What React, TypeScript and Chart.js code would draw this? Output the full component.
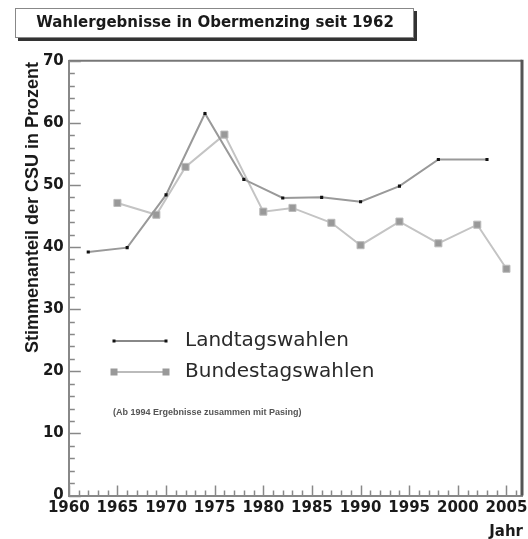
import React, { useEffect, useRef } from "react";
import { Chart, registerables } from "chart.js";

Chart.register(...registerables);

const chartTitle = "Wahlergebnisse in Obermenzing seit 1962";
const yTitle = "Stimmenanteil der CSU in Prozent";
const xTitle = "Jahr";
const note = "(Ab 1994 Ergebnisse zusammen mit Pasing)";
const seriesNames = ["Landtagswahlen", "Bundestagswahlen"];

const landtagYears = [1962, 1966, 1970, 1974, 1978, 1982, 1986, 1990, 1994, 1998, 2003];
const landtagValues = [39.2, 39.9, 48.4, 61.5, 50.9, 47.9, 48.0, 47.3, 49.8, 54.1, 54.1];
const bundestagYears = [1965, 1969, 1972, 1976, 1980, 1983, 1987, 1990, 1994, 1998, 2002, 2005];
const bundestagValues = [47.1, 45.2, 52.9, 58.1, 45.7, 46.3, 43.9, 40.3, 44.1, 40.6, 43.6, 36.5];

const xTickLabels = [1960, 1965, 1970, 1975, 1980, 1985, 1990, 1995, 2000, 2005];

const xMin = 1960;
const xMax = 2006.6;
const yMin = 0;
const yMax = 70;

const decorPlugin = {
  id: "decor",
  afterDraw(chart: any) {
    const ctx = chart.ctx as CanvasRenderingContext2D;
    const { left, right, top, bottom } = chart.chartArea;
    const xs = chart.scales.x;
    const ys = chart.scales.y;
    ctx.save();

    // frame top & right
    ctx.strokeStyle = "#777";
    ctx.lineWidth = 2;
    ctx.beginPath();
    ctx.moveTo(left, top);
    ctx.lineTo(right, top);
    ctx.stroke();
    ctx.strokeStyle = "#555";
    ctx.lineWidth = 3;
    ctx.beginPath();
    ctx.moveTo(right, top - 1);
    ctx.lineTo(right, bottom);
    ctx.stroke();

    // inner ticks
    ctx.strokeStyle = "#888";
    ctx.lineWidth = 1.5;
    for (let v = yMin; v <= yMax; v += 2) {
      const py = Math.round(ys.getPixelForValue(v)) + 0.5;
      const len = v % 10 === 0 ? 12 : 6;
      ctx.beginPath();
      ctx.moveTo(left, py);
      ctx.lineTo(left + len, py);
      ctx.stroke();
    }
    for (let v = xMin; v <= xMax; v += 1) {
      const px = Math.round(xs.getPixelForValue(v)) + 0.5;
      const len = v % 5 === 0 ? 10 : 5;
      ctx.beginPath();
      ctx.moveTo(px, bottom);
      ctx.lineTo(px, bottom - len);
      ctx.stroke();
    }

    // title box
    ctx.fillStyle = "#333";
    ctx.fillRect(18, 11, 399, 30);
    ctx.fillStyle = "#fff";
    ctx.fillRect(15, 8, 399, 30);
    ctx.strokeStyle = "#888";
    ctx.lineWidth = 1;
    ctx.strokeRect(15.5, 8.5, 398, 29);
    ctx.fillStyle = "#1a1a1a";
    ctx.font = "bold 15px 'DejaVu Sans'";
    ctx.textAlign = "center";
    ctx.textBaseline = "middle";
    ctx.fillText(chartTitle, 215, 23);

    // y title
    ctx.save();
    ctx.translate(33, 62);
    ctx.rotate(-Math.PI / 2);
    ctx.font = "bold 18px 'Liberation Sans'";
    ctx.textAlign = "right";
    ctx.textBaseline = "middle";
    ctx.fillStyle = "#1a1a1a";
    ctx.fillText(yTitle, 0, 0);
    ctx.restore();

    // x title
    ctx.font = "bold 15px 'DejaVu Sans'";
    ctx.textAlign = "right";
    ctx.textBaseline = "middle";
    ctx.fillStyle = "#1a1a1a";
    ctx.fillText(xTitle, 523, 532);

    // legend
    const legendItems = [
      { y: 341, line: "#888", marker: "#111", size: 3 },
      { y: 372, line: "#bbb", marker: "#999", size: 7 },
    ];
    legendItems.forEach((it, i) => {
      ctx.strokeStyle = it.line;
      ctx.lineWidth = 2;
      ctx.beginPath();
      ctx.moveTo(114, it.y);
      ctx.lineTo(166, it.y);
      ctx.stroke();
      ctx.fillStyle = it.marker;
      [114, 166].forEach((mx) => {
        ctx.fillRect(mx - it.size / 2, it.y - it.size / 2, it.size, it.size);
      });
      ctx.fillStyle = "#2a2a2a";
      ctx.font = "20px 'DejaVu Sans'";
      ctx.textAlign = "left";
      ctx.textBaseline = "middle";
      ctx.fillText(seriesNames[i], 185, it.y);
    });

    ctx.font = "bold 9px 'Liberation Sans'";
    ctx.fillStyle = "#555";
    ctx.textAlign = "left";
    ctx.textBaseline = "middle";
    ctx.fillText(note, 113, 413);

    ctx.restore();
  },
};

export default function App() {
  const ref = useRef<HTMLCanvasElement | null>(null);
  useEffect(() => {
    document.body.style.margin = "0";
    const canvas = ref.current!;
    const chart = new Chart(canvas, {
      type: "line",
      data: {
        datasets: [
          {
            label: seriesNames[0],
            data: landtagYears.map((x, i) => ({ x, y: landtagValues[i] })),
            borderColor: "#999",
            borderWidth: 2,
            backgroundColor: "#111",
            pointBackgroundColor: "#111",
            pointBorderColor: "#111",
            pointStyle: "rect",
            pointRadius: 2.2,
            pointBorderWidth: 0,
            tension: 0,
          },
          {
            label: seriesNames[1],
            data: bundestagYears.map((x, i) => ({ x, y: bundestagValues[i] })),
            borderColor: "#c4c4c4",
            borderWidth: 2,
            backgroundColor: "#999",
            pointBackgroundColor: "#999",
            pointBorderColor: "#bbb",
            pointStyle: "rect",
            pointRadius: 5,
            pointBorderWidth: 1,
            tension: 0,
          },
        ],
      },
      options: {
        animation: false,
        responsive: false,
        events: [],
        layout: { padding: { left: 0, top: 60.7, right: 4, bottom: 0 } },
        plugins: {
          legend: { display: false },
          title: { display: false },
          tooltip: { enabled: false },
        },
        scales: {
          x: {
            type: "linear",
            min: xMin,
            max: xMax,
            ticks: {
              padding: 4,
              color: "#1a1a1a",
              font: { family: "'DejaVu Sans'", weight: "bold", size: 15 },
              maxRotation: 0,
              autoSkip: false,
              callback: (v: any) => String(Math.round(v)),
            },
            grid: { display: false, drawTicks: false },
            border: { display: true, color: "#888", width: 2 },
            afterBuildTicks: (s: any) => {
              s.ticks = xTickLabels.map((v) => ({ value: v }));
            },
            afterFit: (s: any) => {
              s.height = 43.5;
              s.paddingLeft = 0;
              s.paddingRight = 0;
              s.paddingTop = 0;
              s.paddingBottom = 0;
            },
          },
          y: {
            min: yMin,
            max: yMax,
            ticks: {
              stepSize: 10,
              padding: 5,
              color: "#1a1a1a",
              font: { family: "'DejaVu Sans'", weight: "bold", size: 15 },
            },
            grid: { display: false, drawTicks: false },
            border: { display: true, color: "#888", width: 2 },
            afterFit: (s: any) => {
              s.width = 68.8;
              s.paddingTop = 0;
              s.paddingBottom = 0;
              s.paddingLeft = 0;
              s.paddingRight = 0;
            },
          },
        },
      },
      plugins: [decorPlugin],
    });
    return () => chart.destroy();
  }, []);
  return (
    <div style={{ position: "relative", width: 528, height: 539, background: "#fff" }}>
      <canvas ref={ref} width={528} height={539} style={{ display: "block" }} />
    </div>
  );
}
